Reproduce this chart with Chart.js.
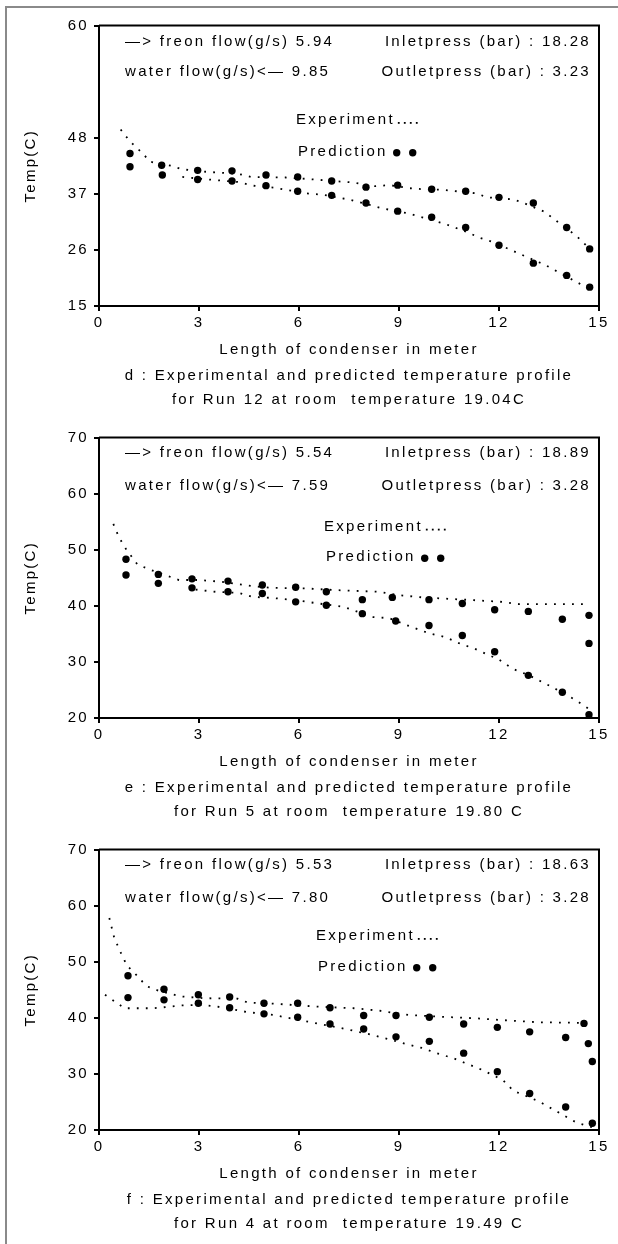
<!DOCTYPE html>
<html>
<head>
<meta charset="utf-8">
<title>Condenser temperature profiles</title>
<script src="https://cdn.jsdelivr.net/npm/chart.js@4.4.1/dist/chart.umd.min.js"></script>
<style>
  html, body { margin: 0; padding: 0; background: #fff; overflow: hidden; }
  body { width: 618px; height: 1244px; position: relative; }
  .frame { position: absolute; left: 5px; top: 6px; width: 611px; height: 1236px;
           border-left: 2px solid #8a8a8a; border-top: 2px solid #8a8a8a; }
  canvas { position: absolute; left: 0; }
</style>
</head>
<body>
<div class="frame"></div>
<canvas id="runD" width="618" height="412" style="top:0px"></canvas>
<canvas id="runE" width="618" height="412" style="top:412px"></canvas>
<canvas id="runF" width="618" height="412" style="top:824px"></canvas>
<script>
// shared axis ticks
const xTicks = [0, 3, 6, 9, 12, 15];
const xTickLabels = ['0', '3', '6', '9', '12', '15'];

// --- Run 12 (d) ---
const dYTicks = [15, 26, 37, 48, 70];
const dYTickLabels = ['15', '26', '37', '48', '60'];
const dUpperX = [0.93, 1.88, 2.96, 3.99, 5.01, 5.96, 6.98, 8.01, 8.96, 9.98, 11.0, 12.0, 13.03, 14.03, 14.72];
const dUpperY = [44.9, 42.6, 41.6, 41.5, 40.7, 40.3, 39.5, 38.3, 38.7, 37.9, 37.5, 36.3, 35.2, 30.4, 26.2];
const dLowerX = [0.93, 1.9, 2.96, 3.99, 5.01, 5.96, 6.98, 8.01, 8.96, 9.98, 11.0, 12.0, 13.03, 14.03, 14.72];
const dLowerY = [42.3, 40.7, 39.8, 39.5, 38.6, 37.5, 36.7, 35.2, 33.6, 32.4, 30.4, 26.9, 23.4, 21.0, 18.7];
const dExpUpperX = [0.65, 0.9, 1.13, 1.32, 1.52, 2.16, 2.5, 3.24, 4.18, 4.57, 5.6, 6.27, 7.65, 8.27, 8.73, 9.3, 9.7, 10.3, 11.3, 11.66, 12.43, 12.7, 13.36, 13.7, 14.33, 14.72];
const dExpUpperY = [49.6, 47.5, 46.0, 44.9, 43.3, 42.5, 41.8, 41.3, 40.9, 40.3, 40.2, 39.9, 39.2, 38.5, 38.7, 38.1, 37.9, 37.8, 37.1, 36.3, 35.9, 35.3, 33.5, 31.8, 28.7, 26.2];
const dExpLowerX = [2.5, 3.3, 4.2, 4.6, 5.24, 6.2, 6.73, 7.55, 8.53, 9.25, 10.38, 11.0, 11.45, 11.8, 12.7, 13.4, 14.3, 14.72];
const dExpLowerY = [40.3, 39.8, 39.3, 38.6, 38.2, 37.1, 36.8, 35.8, 34.1, 33.2, 31.1, 29.6, 28.3, 27.6, 25.0, 23.0, 19.8, 18.3];

// --- Run 5 (e) ---
const eYTicks = [20, 30, 40, 50, 60, 70];
const eYTickLabels = ['20', '30', '40', '50', '60', '70'];
const eUpperX = [0.81, 1.78, 2.79, 3.87, 4.9, 5.9, 6.82, 7.9, 8.8, 9.9, 10.9, 11.87, 12.88, 13.9, 14.7, 14.7];
const eUpperY = [48.3, 45.6, 44.8, 44.4, 43.7, 43.3, 42.5, 41.1, 41.5, 41.1, 40.4, 39.3, 39.0, 37.6, 38.3, 33.3];
const eLowerX = [0.81, 1.78, 2.79, 3.87, 4.9, 5.9, 6.82, 7.9, 8.9, 9.9, 10.9, 11.87, 12.88, 13.9, 14.7];
const eLowerY = [45.5, 44.0, 43.2, 42.5, 42.2, 40.7, 40.1, 38.6, 37.3, 36.5, 34.7, 31.8, 27.6, 24.6, 20.6];
const eExpUpperX = [0.43, 0.6, 0.8, 1.15, 1.5, 2.4, 3.0, 3.65, 4.6, 5.2, 6.2, 7.1, 8.4, 9.0, 9.7, 10.3, 11.25, 12.1, 12.6, 14.6];
const eExpUpperY = [54.6, 52.2, 50.2, 47.4, 46.5, 44.6, 44.6, 44.3, 43.5, 43.2, 43.1, 42.8, 42.5, 41.9, 41.5, 41.3, 41.0, 40.7, 40.3, 40.3];
const eExpLowerX = [2.9, 3.5, 4.2, 4.6, 5.2, 5.9, 6.6, 7.35, 8.2, 8.7, 9.3, 9.9, 10.4, 10.85, 11.25, 12.0, 12.4, 12.9, 13.6, 14.3, 14.75];
const eExpLowerY = [42.9, 42.5, 42.3, 41.6, 41.4, 41.0, 40.4, 39.8, 38.0, 37.8, 36.4, 35.1, 34.4, 33.2, 32.4, 30.4, 28.8, 27.6, 25.5, 23.2, 21.4];

// --- Run 4 (f) ---
const fYTicks = [20, 30, 40, 50, 60, 70];
const fYTickLabels = ['20', '30', '40', '50', '60', '70'];
const fUpperX = [0.87, 1.95, 2.98, 3.92, 4.95, 5.96, 6.93, 7.94, 8.91, 9.91, 10.94, 11.95, 12.92, 14.0, 14.55, 14.68, 14.8];
const fUpperY = [47.5, 45.1, 44.1, 43.7, 42.6, 42.6, 41.8, 40.4, 40.4, 40.1, 38.9, 38.3, 37.5, 36.5, 39.0, 35.4, 32.2];
const fLowerX = [0.87, 1.95, 2.98, 3.92, 4.95, 5.96, 6.93, 7.94, 8.91, 9.91, 10.94, 11.95, 12.92, 14.0, 14.8];
const fLowerY = [43.6, 43.2, 42.6, 41.8, 40.7, 40.1, 38.9, 38.0, 36.6, 35.8, 33.7, 30.4, 26.5, 24.1, 21.2];
const fExpUpperX = [0.31, 0.46, 0.67, 0.84, 1.08, 1.26, 1.44, 1.8, 2.47, 3.13, 4.16, 4.47, 5.29, 6.52, 7.65, 8.37, 9.3, 10.2, 11.35, 12.07, 13.2, 14.5];
const fExpUpperY = [57.8, 54.2, 51.4, 49.3, 47.9, 46.7, 45.6, 44.8, 43.8, 43.5, 43.4, 42.7, 42.5, 42.0, 41.7, 41.3, 40.5, 40.2, 39.9, 39.6, 39.2, 39.1];
const fExpLowerX = [0.18, 0.77, 1.62, 2.16, 2.47, 3.13, 3.54, 4.47, 5.24, 6.27, 7.24, 8.17, 9.3, 9.71, 10.12, 10.63, 11.5, 12.12, 12.43, 13.2, 14.33, 14.8];
const fExpLowerY = [44.1, 41.7, 41.7, 42.0, 42.2, 42.3, 42.0, 41.0, 40.5, 39.3, 38.2, 37.0, 35.2, 34.6, 33.7, 32.8, 30.7, 28.9, 27.0, 25.1, 21.3, 20.5];

const FONT = '"Liberation Sans", Arial, sans-serif';
const SPACING = '2.3px';

Chart.defaults.font.family = FONT;
Chart.defaults.font.size = 15;
Chart.defaults.color = '#000';

const toPoints = (xs, ys) => xs.map((x, i) => ({ x: x, y: ys[i] }));

function expLine(xs, ys) {
  return {
    data: toPoints(xs, ys),
    showLine: true,
    borderColor: '#000',
    borderWidth: 1.8,
    borderDash: [1.8, 7.2],
    pointRadius: 0,
    tension: 0,
  };
}

function predDots(xs, ys) {
  return {
    data: toPoints(xs, ys),
    showLine: false,
    pointRadius: 3.7,
    pointBackgroundColor: '#000',
    pointBorderWidth: 0,
  };
}

// plot box top/right edges, flow notes and the little key
const panelText = {
  id: 'panelText',
  beforeLayout(chart) { chart.ctx.letterSpacing = SPACING; },
  beforeDraw(chart) { chart.ctx.letterSpacing = SPACING; },
  afterDraw(chart, args, o) {
    const { ctx, chartArea: a } = chart;
    ctx.save();
    ctx.strokeStyle = '#000';
    ctx.lineWidth = 2;
    ctx.beginPath();
    ctx.moveTo(a.left, a.top);
    ctx.lineTo(a.right, a.top);
    ctx.lineTo(a.right, a.bottom);
    ctx.stroke();

    ctx.letterSpacing = SPACING;
    ctx.font = '15px ' + FONT;
    ctx.fillStyle = '#000';
    ctx.textBaseline = 'middle';
    ctx.textAlign = 'left';
    ctx.fillText('\u2014> freon flow(g/s) ' + o.freon, 125, o.rowY[0]);
    ctx.fillText('water flow(g/s)<\u2014 ' + o.water, 125, o.rowY[1]);
    ctx.textAlign = 'right';
    ctx.fillText('Inletpress (bar) : ' + o.inlet, 591, o.rowY[0]);
    ctx.fillText('Outletpress (bar) : ' + o.outlet, 591, o.rowY[1]);

    ctx.textAlign = 'left';
    ctx.fillText('Experiment', o.keyX, o.expY);
    let end = o.keyX + ctx.measureText('Experiment').width;
    for (let i = 0; i < 4; i++) ctx.fillRect(end + 3 + i * 6, o.expY + 2, 1.8, 1.8);
    ctx.fillText('Prediction', o.keyX + 2, o.predY);
    end = o.keyX + 2 + ctx.measureText('Prediction').width;
    [9, 25].forEach(dx => {
      ctx.beginPath();
      ctx.arc(end + dx, o.predY + 1, 3.7, 0, Math.PI * 2);
      ctx.fill();
    });
    ctx.restore();
  }
};

function makeChart(id, p) {
  return new Chart(document.getElementById(id), {
    type: 'scatter',
    data: {
      datasets: [
        expLine(p.expUpperX, p.expUpperY),
        expLine(p.expLowerX, p.expLowerY),
        predDots(p.upperX, p.upperY),
        predDots(p.lowerX, p.lowerY),
      ]
    },
    options: {
      responsive: false,
      animation: false,
      events: [],
      layout: { padding: { left: 0, top: 25.5, right: 19, bottom: 0 } },
      scales: {
        x: {
          type: 'linear',
          min: 0,
          max: 15,
          afterBuildTicks: s => { s.ticks = xTicks.map(v => ({ value: v })); },
          afterFit: s => { s.height = 53; },
          ticks: { padding: 3, maxRotation: 0, callback: (v, i) => xTickLabels[i] },
          grid: { drawOnChartArea: false, drawTicks: true, tickLength: 5, color: '#000', lineWidth: 2 },
          border: { display: true, color: '#000', width: 2 },
          title: { display: true, text: 'Length of condenser in meter', padding: { top: 0, bottom: 0 } },
        },
        y: {
          type: 'linear',
          min: p.yTicks[0],
          max: p.yTicks[p.yTicks.length - 1],
          afterBuildTicks: s => { s.ticks = p.yTicks.map(v => ({ value: v })); },
          afterFit: s => { s.width = 99; },
          ticks: { padding: 5, callback: (v, i) => p.yTickLabels[i] },
          grid: { drawOnChartArea: false, drawTicks: true, tickLength: 5, color: '#000', lineWidth: 2 },
          border: { display: true, color: '#000', width: 2 },
          title: { display: true, text: 'Temp(C)', padding: { top: 22, bottom: 0 } },
        }
      },
      plugins: {
        legend: { display: false },
        tooltip: { enabled: false },
        title: {
          display: true,
          position: 'bottom',
          fullSize: false,
          text: p.caption,
          color: '#000',
          font: { size: 15, weight: 'normal', lineHeight: 1.6 },
          padding: { top: 5, bottom: 0 },
        },
        panelText: p.notes,
      }
    },
    plugins: [panelText]
  });
}

makeChart('runD', {
  yTicks: dYTicks, yTickLabels: dYTickLabels,
  upperX: dUpperX, upperY: dUpperY, lowerX: dLowerX, lowerY: dLowerY,
  expUpperX: dExpUpperX, expUpperY: dExpUpperY, expLowerX: dExpLowerX, expLowerY: dExpLowerY,
  caption: ['d : Experimental and predicted temperature profile', 'for Run 12 at room  temperature 19.04C'],
  notes: { freon: '5.94', water: '9.85', inlet: '18.28', outlet: '3.23',
           rowY: [41.7, 71.7], keyX: 296, expY: 120, predY: 151.7 },
});

makeChart('runE', {
  yTicks: eYTicks, yTickLabels: eYTickLabels,
  upperX: eUpperX, upperY: eUpperY, lowerX: eLowerX, lowerY: eLowerY,
  expUpperX: eExpUpperX, expUpperY: eExpUpperY, expLowerX: eExpLowerX, expLowerY: eExpLowerY,
  caption: ['e : Experimental and predicted temperature profile', 'for Run 5 at room  temperature 19.80 C'],
  notes: { freon: '5.54', water: '7.59', inlet: '18.89', outlet: '3.28',
           rowY: [41.3, 73.7], keyX: 324, expY: 114.7, predY: 145.3 },
});

makeChart('runF', {
  yTicks: fYTicks, yTickLabels: fYTickLabels,
  upperX: fUpperX, upperY: fUpperY, lowerX: fLowerX, lowerY: fLowerY,
  expUpperX: fExpUpperX, expUpperY: fExpUpperY, expLowerX: fExpLowerX, expLowerY: fExpLowerY,
  caption: ['f : Experimental and predicted temperature profile', 'for Run 4 at room  temperature 19.49 C'],
  notes: { freon: '5.53', water: '7.80', inlet: '18.63', outlet: '3.28',
           rowY: [41, 73.7], keyX: 316, expY: 112, predY: 142.7 },
});
</script>
</body>
</html>
